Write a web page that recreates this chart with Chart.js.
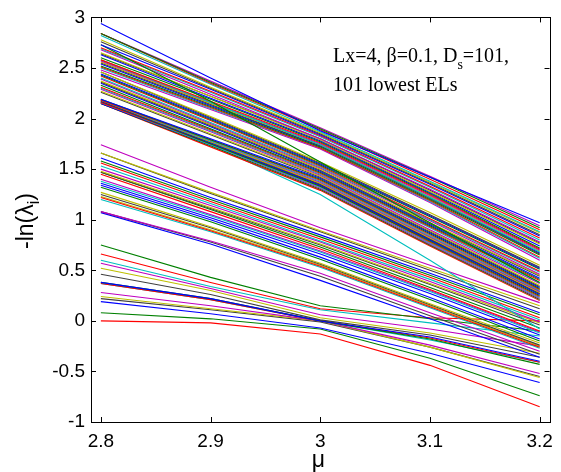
<!DOCTYPE html>
<html>
<head>
<meta charset="utf-8">
<script src="https://cdn.jsdelivr.net/npm/chart.js@4.4.1/dist/chart.umd.min.js"></script>
<style>
html,body{margin:0;padding:0;background:#fff;}
#wrap{width:561px;height:472px;position:relative;}
</style>
</head>
<body>
<div id="wrap"><canvas id="chart" width="561" height="472"></canvas></div>
<script>
/* ================= DATA ================= */

// mu values where each level is sampled
const muPoints=[2.8,2.9,3.0,3.1,3.2];

const tickValuesX=[2.8,2.9,3.0,3.1,3.2];
const tickValuesY=[-1,-0.5,0,0.5,1,1.5,2,2.5,3];

// -ln(lambda_i), levels 1-60 (upper group)
const bandTop=[
[2.94,2.40,1.88,1.42,0.97],
[2.84,2.36,1.90,1.42,0.92],
[2.84,2.35,1.89,1.40,0.90],
[2.82,2.34,1.87,1.38,0.88],
[2.84,2.37,1.91,1.43,0.94],
[2.78,2.31,1.86,1.37,0.87],
[2.76,2.30,1.85,1.36,0.85],
[2.73,2.29,1.84,1.35,0.84],
[2.73,2.17,1.57,0.97,0.38],
[2.70,2.27,1.83,1.33,0.82],
[2.69,2.26,1.82,1.32,0.80],
[2.68,2.24,1.80,1.30,0.78],
[2.65,2.22,1.79,1.28,0.76],
[2.64,2.22,1.80,1.29,0.77],
[2.63,2.20,1.78,1.27,0.74],
[2.60,2.19,1.77,1.26,0.72],
[2.58,2.17,1.76,1.25,0.71],
[2.58,2.16,1.74,1.22,0.68],
[2.57,2.16,1.75,1.24,0.70],
[2.56,2.15,1.74,1.23,0.69],
[2.55,2.14,1.73,1.21,0.66],
[2.54,2.13,1.73,1.22,0.67],
[2.52,2.12,1.72,1.20,0.65],
[2.51,2.11,1.71,1.19,0.63],
[2.50,2.10,1.71,1.18,0.62],
[2.48,2.09,1.70,1.17,0.60],
[2.46,2.02,1.57,1.07,0.55],
[2.46,2.01,1.56,1.05,0.53],
[2.44,2.00,1.55,1.04,0.52],
[2.43,1.99,1.54,1.03,0.51],
[2.42,1.98,1.53,1.01,0.49],
[2.40,1.96,1.52,1.00,0.48],
[2.39,1.95,1.51,0.99,0.46],
[2.37,1.94,1.50,0.97,0.45],
[2.36,1.93,1.49,0.96,0.44],
[2.35,1.92,1.48,0.95,0.42],
[2.33,1.90,1.47,0.94,0.41],
[2.31,1.89,1.46,0.93,0.40],
[2.30,1.88,1.45,0.92,0.38],
[2.29,1.87,1.44,0.90,0.37],
[2.27,1.85,1.43,0.89,0.35],
[2.26,1.84,1.42,0.88,0.34],
[2.19,1.80,1.41,0.87,0.33],
[2.19,1.79,1.40,0.86,0.32],
[2.18,1.79,1.39,0.85,0.31],
[2.18,1.78,1.38,0.84,0.30],
[2.18,1.78,1.37,0.83,0.29],
[2.18,1.77,1.36,0.82,0.28],
[2.17,1.77,1.35,0.81,0.27],
[2.17,1.76,1.34,0.80,0.26],
[2.17,1.75,1.33,0.79,0.25],
[2.16,1.75,1.33,0.78,0.24],
[2.16,1.74,1.32,0.77,0.23],
[2.16,1.74,1.31,0.76,0.22],
[2.16,1.76,1.36,0.83,0.31],
[2.16,1.75,1.35,0.81,0.29],
[2.15,1.74,1.34,0.80,0.27],
[2.15,1.73,1.30,0.75,0.21],
[2.15,1.72,1.29,0.74,0.20],
[2.18,1.74,1.25,0.60,-0.08]
];

// levels 61-85 (middle group)
const bandMid=[
[1.74,1.32,0.92,0.55,0.18],
[1.66,1.27,0.89,0.52,0.15],
[1.66,1.26,0.88,0.50,0.12],
[1.61,1.22,0.85,0.47,0.08],
[1.58,1.20,0.83,0.45,0.06],
[1.56,1.18,0.81,0.43,0.03],
[1.53,1.16,0.79,0.41,0.01],
[1.50,1.14,0.78,0.39,-0.01],
[1.48,1.12,0.76,0.37,-0.02],
[1.47,1.11,0.75,0.36,-0.04],
[1.36,1.02,0.66,0.27,-0.14],
[1.47,1.10,0.73,0.33,-0.07],
[1.45,1.08,0.71,0.31,-0.10],
[1.38,1.04,0.68,0.29,-0.12],
[1.40,1.05,0.69,0.30,-0.11],
[1.27,0.93,0.57,0.17,-0.22],
[1.25,0.92,0.56,0.16,-0.24],
[1.34,1.00,0.63,0.23,-0.18],
[1.32,0.98,0.61,0.21,-0.20],
[1.22,0.89,0.54,0.14,-0.26],
[1.20,0.88,0.53,0.13,-0.27],
[1.08,0.79,0.47,0.08,-0.30],
[1.23,0.90,0.55,0.15,-0.25],
[1.08,0.78,0.44,0.05,-0.33],
[1.07,0.76,0.40,0.02,-0.36]
];

// levels 86-101 (lowest group)
const bandLow=[
[0.75,0.43,0.15,0.02,-0.10],
[0.66,0.38,0.12,0.03,0.00],
[0.60,0.34,0.11,-0.02,-0.15],
[0.57,0.32,0.06,-0.08,-0.25],
[0.52,0.30,0.03,-0.12,-0.32],
[0.46,0.26,0.01,-0.14,-0.36],
[0.38,0.22,0.00,-0.16,-0.40],
[0.38,0.22,0.00,-0.18,-0.43],
[0.37,0.21,0.00,-0.17,-0.41],
[0.37,0.21,0.00,-0.19,-0.41],
[0.28,0.15,0.00,-0.24,-0.52],
[0.24,0.12,0.00,-0.26,-0.56],
[0.22,0.11,-0.01,-0.26,-0.55],
[0.19,0.07,-0.07,-0.32,-0.61],
[0.08,0.02,-0.08,-0.37,-0.74],
[0.00,-0.02,-0.13,-0.44,-0.85]
];

/* ================= STYLE ================= */

const matlabColors=[
"rgb(0,0,255)",
"rgb(0,128,0)",
"rgb(255,0,0)",
"rgb(0,191,191)",
"rgb(191,0,191)",
"rgb(191,191,0)",
"rgb(64,64,64)"
];

const FONT_SANS="'Liberation Sans', Arial, Helvetica, sans-serif";
const FONT_SERIF="'Liberation Serif', 'Times New Roman', serif";

/* ================= DATASETS ================= */

const allLevels=[...bandTop,...bandMid,...bandLow];

const datasets=allLevels.map((vals,i)=>({
data:vals.map((v,j)=>({x:muPoints[j],y:v})),
borderColor:matlabColors[i%matlabColors.length],
borderWidth:1.1,
pointRadius:0,
fill:false,
tension:0
}));

/* ================= DECORATION PLUGIN ================= */

const matlabFrame={
id:"matlabFrame",
afterDraw(chart){
const {ctx,chartArea:a,scales}=chart;
ctx.save();
ctx.strokeStyle="#000";
ctx.lineWidth=1;
ctx.strokeRect(Math.round(a.left)+0.5,Math.round(a.top)+0.5,Math.round(a.right-a.left),Math.round(a.bottom-a.top));

// inward ticks on all four sides
ctx.beginPath();
tickValuesX.forEach(v=>{
const x=Math.round(scales.x.getPixelForValue(v))+0.5;
ctx.moveTo(x,a.bottom);ctx.lineTo(x,a.bottom-5);
ctx.moveTo(x,a.top);ctx.lineTo(x,a.top+5);
});
tickValuesY.forEach(v=>{
const y=Math.round(scales.y.getPixelForValue(v))+0.5;
ctx.moveTo(a.left,y);ctx.lineTo(a.left+5,y);
ctx.moveTo(a.right,y);ctx.lineTo(a.right-5,y);
});
ctx.stroke();

// axis titles
ctx.fillStyle="#000";
ctx.font="23px "+FONT_SANS;
ctx.textAlign="center";
ctx.textBaseline="alphabetic";
ctx.fillText("\u03bc",(a.left+a.right)/2-2,467);

ctx.translate(33,221);
ctx.rotate(-Math.PI/2);
ctx.textAlign="left";
const main="-ln(\u03bb";
const w1=ctx.measureText(main).width;
ctx.font="16px "+FONT_SANS;
const w2=ctx.measureText("i").width;
ctx.font="23px "+FONT_SANS;
const w3=ctx.measureText(")").width;
const x0=-(w1+w2+w3)/2;
ctx.fillText(main,x0,0);
ctx.font="16px "+FONT_SANS;
ctx.fillText("i",x0+w1,6);
ctx.font="23px "+FONT_SANS;
ctx.fillText(")",x0+w1+w2,0);
ctx.restore();

// annotation
ctx.save();
ctx.fillStyle="#000";
ctx.textAlign="left";
ctx.textBaseline="alphabetic";
ctx.font="20px "+FONT_SERIF;
let tx=333;
const p1="Lx=4, \u03b2=0.1, D";
ctx.fillText(p1,tx,62);
tx+=ctx.measureText(p1).width;
ctx.font="14px "+FONT_SERIF;
ctx.fillText("s",tx,69);
tx+=ctx.measureText("s").width;
ctx.font="20px "+FONT_SERIF;
ctx.fillText("=101,",tx,62);
ctx.fillText("101 lowest ELs",333,91);
ctx.restore();
}
};

/* ================= CHART ================= */

new Chart(document.getElementById("chart"),{
type:"line",
data:{datasets},
options:{
responsive:false,
animation:false,
layout:{padding:{top:15,right:6,left:0,bottom:0}},
plugins:{legend:{display:false},tooltip:{enabled:false}},
scales:{
x:{
type:"linear",
min:2.791,
max:3.209,
afterBuildTicks:s=>{s.ticks=tickValuesX.map(v=>({value:v}));},
afterFit:s=>{s.height=50;},
grid:{display:false,drawTicks:false},
border:{display:false},
ticks:{
padding:8,
color:"#000",
maxRotation:0,
font:{family:FONT_SANS,size:19},
callback:v=>String(Math.round(v*10)/10)
}
},
y:{
type:"linear",
min:-1,
max:3,
afterBuildTicks:s=>{s.ticks=tickValuesY.map(v=>({value:v}));},
afterFit:s=>{s.width=91;},
grid:{display:false,drawTicks:false},
border:{display:false},
ticks:{
padding:6,
color:"#000",
font:{family:FONT_SANS,size:19},
callback:v=>String(v)
}
}
}
},
plugins:[matlabFrame]
});
</script>
</body>
</html>
